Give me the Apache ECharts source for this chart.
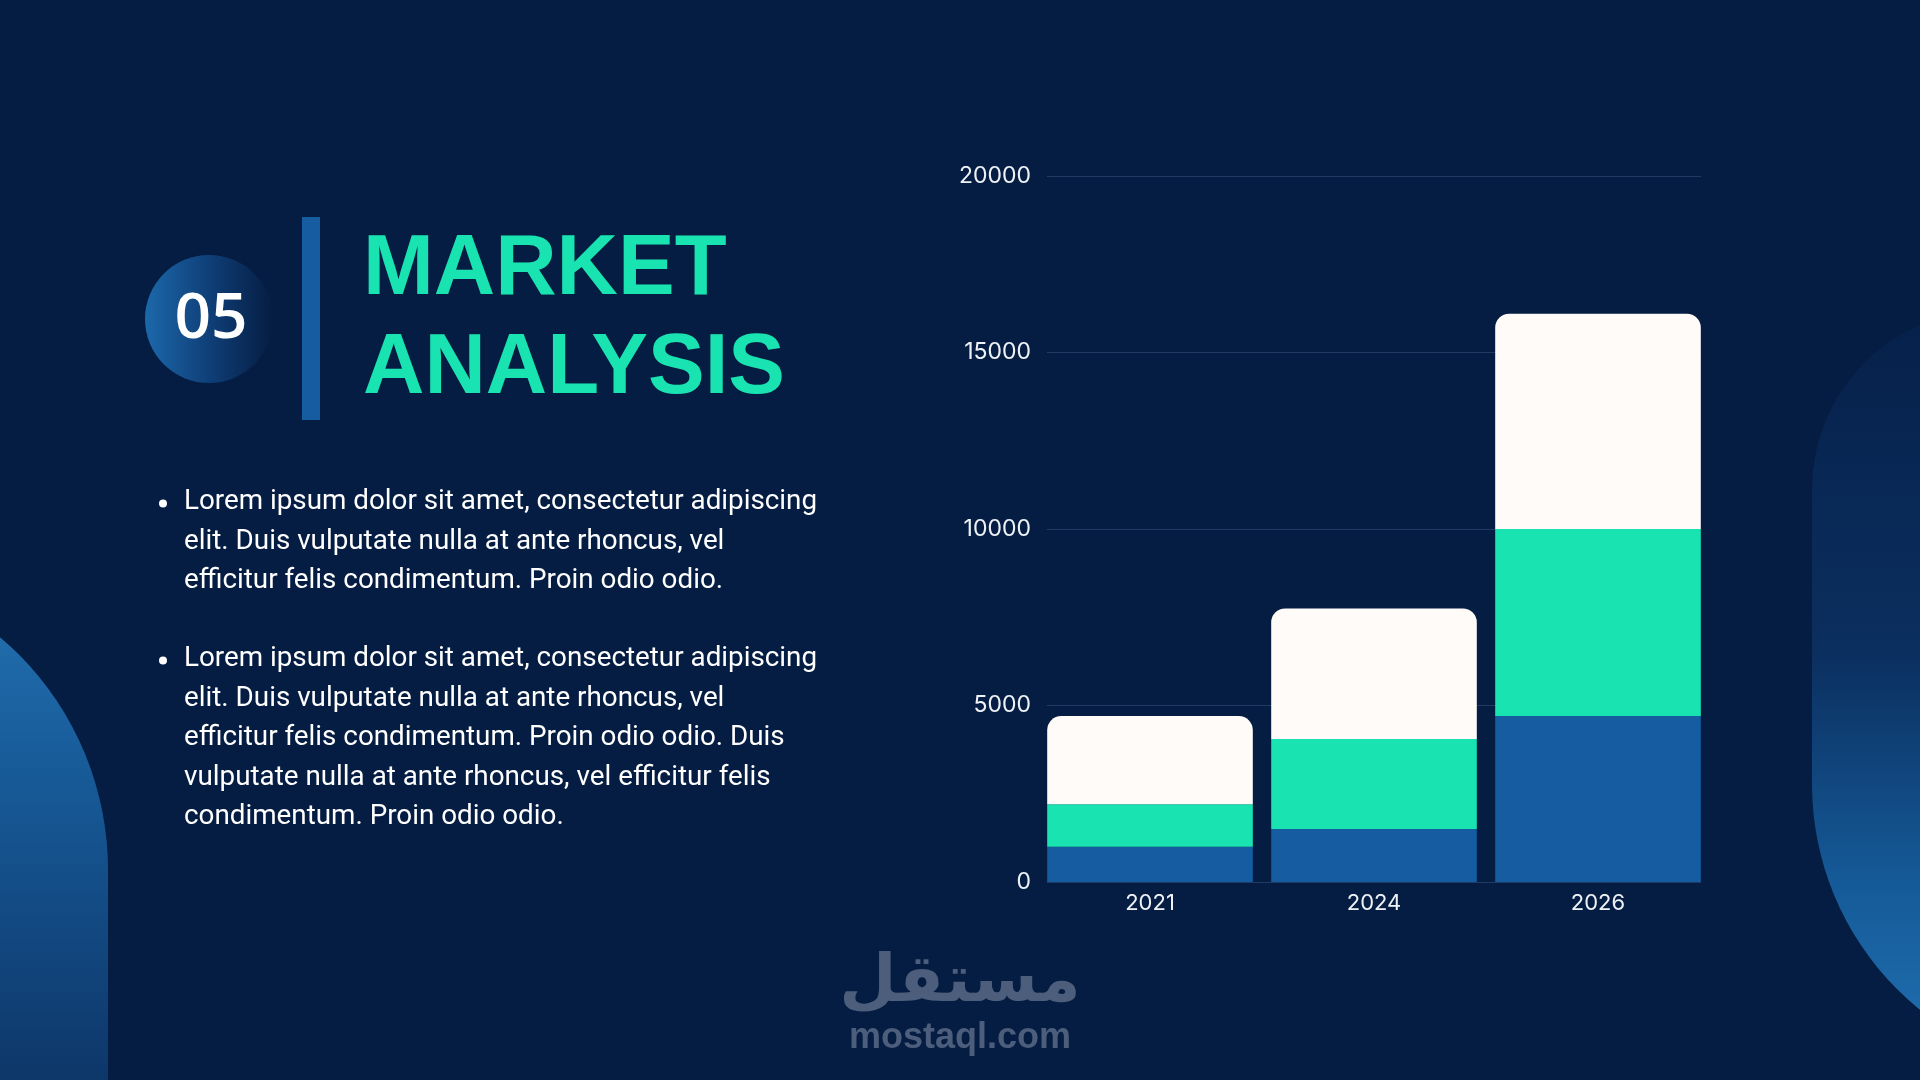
<!DOCTYPE html>
<html>
<head>
<meta charset="utf-8">
<script src="https://cdn.jsdelivr.net/npm/echarts@6/dist/echarts.min.js"></script>
<style>
html,body{margin:0;padding:0;background:#051d42;}
#chart{width:1920px;height:1080px;}
</style>
</head>
<body>
<div id="chart"></div>
<script>
// ---- data ----
const categories = ['2021', '2024', '2026'];
const seriesBlue = [1000, 1500, 4700];
const seriesTeal = [1200, 2550, 5300];
const seriesWhite = [2500, 3700, 6100];
const yMax = 20000;
const yInterval = 5000;

const sectionNumber = '05';
const titleLines = ['MARKET', 'ANALYSIS'];
const bullet1 = [
  'Lorem ipsum dolor sit amet, consectetur adipiscing',
  'elit. Duis vulputate nulla at ante rhoncus, vel',
  'efficitur felis condimentum. Proin odio odio.'
];
const bullet2 = [
  'Lorem ipsum dolor sit amet, consectetur adipiscing',
  'elit. Duis vulputate nulla at ante rhoncus, vel',
  'efficitur felis condimentum. Proin odio odio. Duis',
  'vulputate nulla at ante rhoncus, vel efficitur felis',
  'condimentum. Proin odio odio.'
];
const watermarkAr = 'مستقل';
const watermarkEn = 'mostaql.com';

// ---- build ----
const BG = '#051d42';
const chart = echarts.init(document.getElementById('chart'));

const graphics = [];
// left decorative shape
graphics.push({
  type: 'rect', z: 0,
  shape: { x: -500, y: 565, width: 608, height: 600, r: [0, 305, 0, 0] },
  style: { fill: new echarts.graphic.LinearGradient(0, 0, 0, 1, [
    { offset: 0, color: '#2574b4' }, { offset: 0.35, color: '#175a98' }, { offset: 1, color: '#0b2d5c' }]) }
});
// right decorative shape
graphics.push({
  type: 'rect', z: 0,
  shape: { x: 1812, y: 310, width: 400, height: 764, r: [180, 0, 0, 290] },
  style: { fill: new echarts.graphic.LinearGradient(0, 0, 0, 1, [
    { offset: 0, color: '#06204a' }, { offset: 0.45, color: '#0b2f5f' }, { offset: 0.75, color: '#155a98' }, { offset: 1, color: '#2272b3' }]) }
});
// number circle
graphics.push({
  type: 'circle', z: 1,
  shape: { cx: 209, cy: 319, r: 64 },
  style: { fill: new echarts.graphic.LinearGradient(0, 0, 1, 0, [
    { offset: 0, color: '#1c68aa' }, { offset: 0.5, color: '#0f3f78' }, { offset: 1, color: BG }]) }
});
graphics.push({
  type: 'text', z: 2,
  style: { text: sectionNumber, x: 211, y: 320, textAlign: 'center', textVerticalAlign: 'middle',
    fill: '#ffffff', font: '600 64px "Open Sans"' }
});
// vertical accent bar
graphics.push({
  type: 'rect', z: 1,
  shape: { x: 302, y: 217, width: 18, height: 203 },
  style: { fill: '#155ca0' }
});
// title
titleLines.forEach((t, i) => {
  graphics.push({
    type: 'text', z: 2,
    style: { text: t, x: 363, y: 271 + i * 99, textAlign: 'left', textVerticalAlign: 'middle',
      fill: '#19e3b1', font: 'bold 85px "Liberation Sans"' }
  });
});
// bullets
const lineH = 39.4;
function addBullet(lines, y0) {
  graphics.push({ type: 'circle', z: 2, shape: { cx: 163, cy: y0 + 1, r: 4 }, style: { fill: '#ffffff' } });
  lines.forEach((t, i) => {
    graphics.push({
      type: 'text', z: 2,
      style: { text: t, x: 184, y: y0 + i * lineH, textAlign: 'left', textVerticalAlign: 'middle',
        fill: '#ffffff', font: '27.8px Roboto' }
    });
  });
}
addBullet(bullet1, 502.5);
addBullet(bullet2, 659.5);
// watermark
graphics.push({
  type: 'text', z: 2,
  style: { text: watermarkAr, x: 960, y: 984, textAlign: 'center', textVerticalAlign: 'middle',
    fill: '#4c5e7b', font: 'bold 66px "DejaVu Sans"' }
});
graphics.push({
  type: 'text', z: 2,
  style: { text: watermarkEn, x: 960, y: 1038, textAlign: 'center', textVerticalAlign: 'middle',
    fill: '#4c5e7b', font: 'bold 36px "Liberation Sans"' }
});

const gridTop = 176, gridBottom = 198;
const barBase = { type: 'bar', stack: 'total', barCategoryGap: '8.2%', xAxisIndex: 1, yAxisIndex: 1, z: 3 };
const option = {
  backgroundColor: BG,
  animation: false,
  grid: [
    { left: 1047, right: 219, top: gridTop, bottom: gridBottom, containLabel: false },
    { left: 1038, right: 210, top: gridTop, bottom: gridBottom, containLabel: false }
  ],
  xAxis: [
    { type: 'category', data: categories, gridIndex: 0, show: false },
    { type: 'category', data: categories, gridIndex: 1,
      axisLine: { show: false }, axisTick: { show: false },
      axisLabel: { color: '#eef2f7', fontSize: 22, fontFamily: 'Inter', margin: 10 } }
  ],
  yAxis: [
    { type: 'value', gridIndex: 0, min: 0, max: yMax, interval: yInterval,
      axisLine: { show: false }, axisTick: { show: false },
      axisLabel: { color: '#eef2f7', fontSize: 23, fontFamily: 'Inter', margin: 16, formatter: v => String(v) },
      splitLine: { lineStyle: { color: 'rgba(110,150,200,0.25)', width: 1 } } },
    { type: 'value', gridIndex: 1, min: 0, max: yMax, interval: yInterval, show: false, splitLine: { show: false } }
  ],
  series: [
    Object.assign({}, barBase, { name: 'A', data: seriesBlue, itemStyle: { color: '#155ca0' } }),
    Object.assign({}, barBase, { name: 'B', data: seriesTeal, itemStyle: { color: '#19e3b1' } }),
    Object.assign({}, barBase, { name: 'C', data: seriesWhite, itemStyle: { color: '#fffbf9', borderRadius: [14, 14, 0, 0] } })
  ],
  graphic: graphics
};
chart.setOption(option);
</script>
</body>
</html>
